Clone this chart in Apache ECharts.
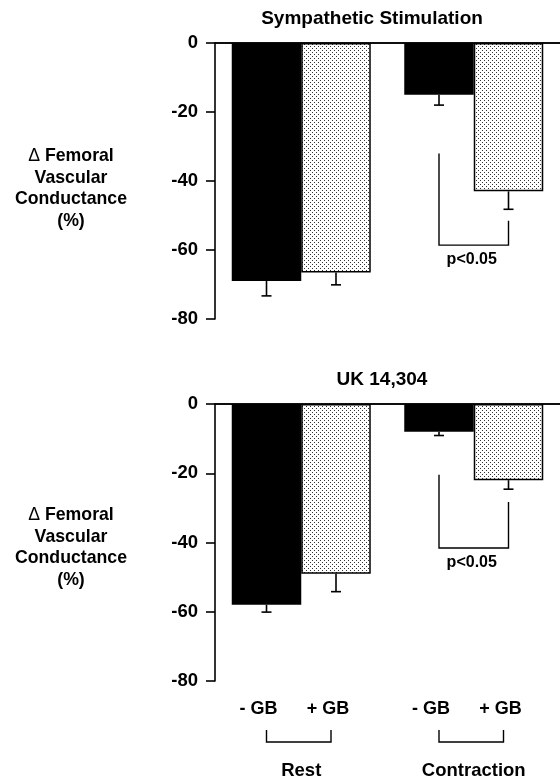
<!DOCTYPE html>
<html>
<head>
<meta charset="utf-8">
<script src="https://cdn.jsdelivr.net/npm/echarts@6/dist/echarts.min.js"></script>
<style>
  html, body { margin: 0; padding: 0; background: #fff; }
  #chart { width: 560px; height: 781px; }
</style>
</head>
<body>
<div id="chart"></div>
<script>
// Groups on the x axis and the two conditions within each group
const groups = ['Rest', 'Contraction'];
const conditionLabels = ['- GB', '+ GB'];
const yTicks = [0, -20, -40, -60, -80];
const panelTitles = ['Sympathetic Stimulation', 'UK 14,304'];
const yLabel = '{d|\u0394} Femoral\nVascular\nConductance\n(%)';
const sigLabel = 'p<0.05';

// Sympathetic stimulation: mean change (%) and SE
const sympMinusGB = [-69, -15];
const sympPlusGB = [-66.5, -43];
const sympMinusGBErr = [4.3, 3];
const sympPlusGBErr = [3.6, 5.2];
// significance bracket over Contraction: left arm top, right arm top, crossbar
const sympBracket = [-32, -51.5, -58.6];

// UK 14,304: mean change (%) and SE
const ukMinusGB = [-58, -8];
const ukPlusGB = [-49, -22];
const ukMinusGBErr = [2.1, 1.1];
const ukPlusGBErr = [5.2, 2.6];
const ukBracket = [-20.4, -28.3, -41.6];

const FONT = '"Liberation Sans", Arial, Helvetica, sans-serif';
const BAR_W = 69.5;
const CAP = 5;
const LINE_W = 1.6;

// stippled fill for the +GB bars
function stipple() {
  const c = document.createElement('canvas');
  c.width = 4; c.height = 4;
  const g = c.getContext('2d');
  g.fillStyle = '#fff';
  g.fillRect(0, 0, 4, 4);
  g.fillStyle = '#333';
  g.fillRect(0, 0, 1, 1);
  g.fillRect(2, 2, 1, 1);
  return c;
}
const dots = { image: stipple(), repeat: 'repeat' };

const panels = [
  { title: panelTitles[0], minus: sympMinusGB, plus: sympPlusGB, minusErr: sympMinusGBErr, plusErr: sympPlusGBErr, bracket: sympBracket },
  { title: panelTitles[1], minus: ukMinusGB, plus: ukPlusGB, minusErr: ukMinusGBErr, plusErr: ukPlusGBErr, bracket: ukBracket }
];

const grids = [
  { left: 215, right: 0, top: 43, height: 276 },
  { left: 215, right: 0, top: 404, height: 277 }
];

const axisLineStyle = { color: '#000', width: LINE_W };

const xAxes = [];
const yAxes = [];
const series = [];

panels.forEach((p, i) => {
  // bottom category axis
  xAxes.push({
    type: 'category', gridIndex: i, data: groups, position: 'bottom',
    axisLine: { show: true, lineStyle: axisLineStyle },
    axisTick: { show: false }, axisLabel: { show: false }
  });
  // top border line at zero
  xAxes.push({
    type: 'category', gridIndex: i, data: groups, position: 'top',
    axisLine: { show: true, lineStyle: axisLineStyle },
    axisTick: { show: false }, axisLabel: { show: false }
  });
  yAxes.push({
    type: 'value', gridIndex: i, min: yTicks[yTicks.length - 1], max: yTicks[0], interval: 20,
    axisLine: { show: true, lineStyle: axisLineStyle },
    axisTick: { show: true, length: 9, lineStyle: axisLineStyle },
    axisLabel: { color: '#000', fontSize: 18.5, fontWeight: 'bold', fontFamily: FONT, margin: 17 },
    splitLine: { show: false }
  });

  const xi = i * 2;
  series.push({
    type: 'bar', name: conditionLabels[0], xAxisIndex: xi, yAxisIndex: i,
    data: p.minus, barWidth: BAR_W, barGap: '0%',
    itemStyle: { color: '#000' }, silent: true
  });
  series.push({
    type: 'bar', name: conditionLabels[1], xAxisIndex: xi, yAxisIndex: i,
    data: p.plus, barWidth: BAR_W, barGap: '0%',
    itemStyle: { color: dots, borderColor: '#000', borderWidth: 1.5 }, silent: true
  });

  // error bars (downward only), placed on the centre of each bar
  const errData = [];
  groups.forEach((g, k) => {
    errData.push([k, p.minus[k], p.minusErr[k], -1]);
    errData.push([k, p.plus[k], p.plusErr[k], 1]);
  });
  series.push({
    type: 'custom', xAxisIndex: xi, yAxisIndex: i, data: errData, silent: true, z: 5,
    encode: { x: 0, y: 1 },
    renderItem: (params, api) => {
      const cat = api.value(0), v = api.value(1), e = api.value(2), side = api.value(3);
      const top = api.coord([cat, v]);
      const x = top[0] + side * BAR_W / 2;
      const yEnd = api.coord([cat, v - e])[1];
      const st = { stroke: '#000', lineWidth: LINE_W };
      return {
        type: 'group', children: [
          { type: 'line', shape: { x1: x, y1: top[1], x2: x, y2: yEnd }, style: st },
          { type: 'line', shape: { x1: x - CAP, y1: yEnd, x2: x + CAP, y2: yEnd }, style: st }
        ]
      };
    }
  });

  // significance bracket between the two Contraction bars
  series.push({
    type: 'custom', xAxisIndex: xi, yAxisIndex: i, silent: true, z: 5,
    data: [[1, p.bracket[2], p.bracket[0], p.bracket[1]]],
    encode: { x: 0, y: 1 },
    renderItem: (params, api) => {
      const cat = api.value(0);
      const xc = api.coord([cat, 0])[0];
      const xl = xc - BAR_W / 2, xr = xc + BAR_W / 2;
      const yb = api.coord([cat, api.value(1)])[1];
      const yl = api.coord([cat, api.value(2)])[1];
      const yr = api.coord([cat, api.value(3)])[1];
      return {
        type: 'group', children: [
          { type: 'polyline', shape: { points: [[xl, yl], [xl, yb], [xr, yb], [xr, yr]] },
            style: { stroke: '#000', lineWidth: 1.4, fill: null } },
          { type: 'text', style: { text: sigLabel, x: (xl + xr) / 2 - 2, y: yb + 14.5,
            align: 'center', verticalAlign: 'middle', fill: '#000',
            fontSize: 16, fontWeight: 'bold', fontFamily: FONT } }
        ]
      };
    }
  });
});

// condition labels, group brackets and group names under the lower panel
series.push({
  type: 'custom', xAxisIndex: 2, yAxisIndex: 1, silent: true, clip: false,
  data: [[0, yTicks[yTicks.length - 1]], [1, yTicks[yTicks.length - 1]]],
  encode: { x: 0, y: 1 },
  renderItem: (params, api) => {
    const cat = api.value(0);
    const pt = api.coord([cat, api.value(1)]);
    const xc = pt[0], y0 = pt[1];
    const txt = (t, x, y, size) => ({
      type: 'text', style: { text: t, x: x, y: y, align: 'center', verticalAlign: 'middle',
        fill: '#000', fontSize: size, fontWeight: 'bold', fontFamily: FONT }
    });
    const xl = xc - BAR_W / 2, xr = xc + BAR_W / 2 - 5;
    return {
      type: 'group', children: [
        txt(conditionLabels[0], xc - BAR_W / 2 - 8, y0 + 28, 18),
        txt(conditionLabels[1], xc + BAR_W / 2 - 8, y0 + 28, 18),
        { type: 'polyline', shape: { points: [[xl, y0 + 49], [xl, y0 + 61], [xr, y0 + 61], [xr, y0 + 49]] },
          style: { stroke: '#000', lineWidth: 1.4, fill: null } },
        txt(groups[cat], xc, y0 + 90, 18.5)
      ]
    };
  }
});

const chart = echarts.init(document.getElementById('chart'), null, { renderer: 'canvas' });
chart.setOption({
  animation: false,
  backgroundColor: '#fff',
  grid: grids,
  xAxis: xAxes,
  yAxis: yAxes,
  series: series,
  graphic: [
    { type: 'text', x: 372, y: 19, style: { text: panelTitles[0], align: 'center', verticalAlign: 'middle',
      fill: '#000', fontSize: 19, fontWeight: 'bold', fontFamily: FONT } },
    { type: 'text', x: 382, y: 380, style: { text: panelTitles[1], align: 'center', verticalAlign: 'middle',
      fill: '#000', fontSize: 19, fontWeight: 'bold', fontFamily: FONT } },
    { type: 'text', x: 71, y: 188.5, style: { text: yLabel, align: 'center', verticalAlign: 'middle',
      fill: '#000', fontSize: 17.7, fontWeight: 'bold', fontFamily: FONT, lineHeight: 21.5,
      rich: { d: { fontWeight: 'normal', fontSize: 17.7, fontFamily: FONT, lineHeight: 21.5 } } } },
    { type: 'text', x: 71, y: 547.5, style: { text: yLabel, align: 'center', verticalAlign: 'middle',
      fill: '#000', fontSize: 17.7, fontWeight: 'bold', fontFamily: FONT, lineHeight: 21.5,
      rich: { d: { fontWeight: 'normal', fontSize: 17.7, fontFamily: FONT, lineHeight: 21.5 } } } }
  ]
});
</script>
</body>
</html>
